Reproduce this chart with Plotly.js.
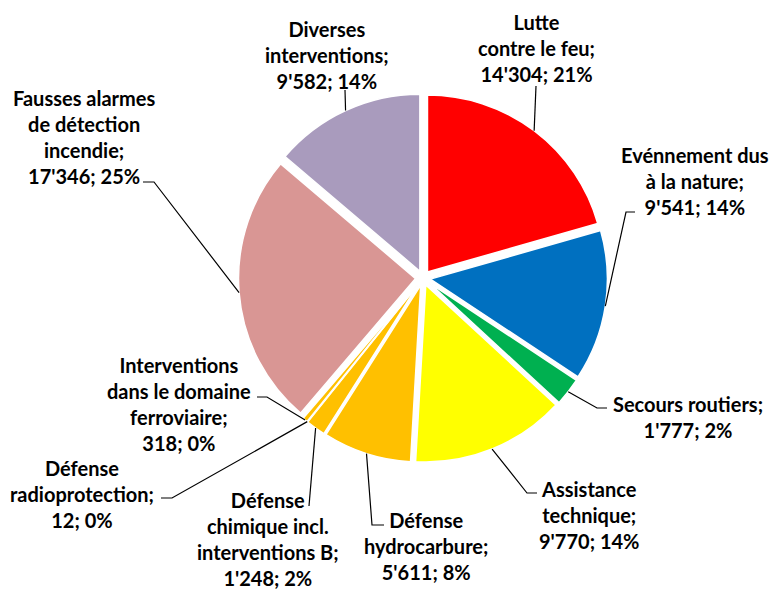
<!DOCTYPE html>
<html><head><meta charset="utf-8">
<script src="https://cdn.plot.ly/plotly-3.0.1.min.js"></script>
<style>html,body{margin:0;padding:0;background:#fff}#chart{width:770px;height:592px}</style>
</head><body><div id="chart"></div>
<script>
// ---- data ----
const categories = ["Lutte<br>contre le feu", "Evénnement dus<br>à la nature", "Secours routiers", "Assistance<br>technique", "Défense<br>hydrocarbure", "Défense<br>chimique incl.<br>interventions B", "Défense<br>radioprotection", "Interventions<br>dans le domaine<br>ferroviaire", "Fausses alarmes<br>de détection<br>incendie", "Diverses<br>interventions"];
const values = [14304, 9541, 1777, 9770, 5611, 1248, 12, 318, 17346, 9582];
const percentLabels = [21, 14, 2, 14, 8, 2, 0, 0, 25, 14];
const colors = ["#FF0000", "#0070C0", "#00B050", "#FFFF00", "#FFC000", "#FFC000", "#FFC000", "#FFC000", "#D99694", "#A99BBD"];

// ---- layout (pixel positions of label blocks and leader-line bends) ----
const W = 770, H = 592;
const domX = [0.3097, 0.7890], domY = [0.2188, 0.8421];
const pull = 0.042;
const labelLayout = [
  {x: 536, y: 48,  bend: [[536, 86]]},
  {x: 695, y: 181, bend: [[626, 212], [635, 212]]},
  {x: 688, y: 417, bend: [[597, 408], [607, 408]]},
  {x: 589, y: 515, bend: [[527, 493], [537, 493]]},
  {x: 426, y: 546, bend: [[372, 525], [384, 525]]},
  {x: 268, y: 539, bend: [[309, 506]]},
  {x: 82,  y: 494, bend: [[172, 498], [161, 498]]},
  {x: 179, y: 404, bend: [[267, 397], [257, 397]]},
  {x: 84,  y: 137, bend: [[154, 182], [143, 182]]},
  {x: 327, y: 55,  bend: [[345, 90]]}
];

function fmt(v) { return String(v).replace(/\B(?=(\d{3})+(?!\d))/g, "'"); }

const total = values.reduce((a, b) => a + b, 0);
const cx = W * (domX[0] + domX[1]) / 2;
const cy = H * (1 - (domY[0] + domY[1]) / 2);
const R = Math.min(W * (domX[1] - domX[0]), H * (domY[1] - domY[0])) / 2;

const annotations = [], shapes = [];
let cum = 0;
values.forEach((v, i) => {
  const th = 2 * Math.PI * (cum + v / 2) / total;
  cum += v;
  const px = cx + R * Math.sin(th), py = cy - R * Math.cos(th);
  const L = labelLayout[i];
  let d = "M " + (px / W) + " " + (1 - py / H);
  L.bend.forEach(p => { d += " L " + (p[0] / W) + " " + (1 - p[1] / H); });
  shapes.push({type: "path", xref: "paper", yref: "paper", path: d, line: {color: "#000", width: 1.2}});
  annotations.push({
    xref: "paper", yref: "paper", x: L.x / W, y: 1 - L.y / H,
    xanchor: "center", yanchor: "middle", showarrow: false, align: "center",
    text: categories[i] + ";<br>" + fmt(v) + "; " + percentLabels[i] + "%",
    font: {family: "Lato, 'Liberation Sans', sans-serif", size: 20, color: "#000", weight: "bold"}
  });
});

const trace = {
  type: "pie", values: values, labels: categories.map(c => c.replace(/<br>/g, " ")),
  sort: false, direction: "clockwise", rotation: 0,
  marker: {colors: colors, line: {color: "#fff", width: 1.5}},
  pull: values.map(() => pull), textinfo: "none", hoverinfo: "label+value+percent",
  domain: {x: domX, y: domY}, showlegend: false
};

Plotly.newPlot("chart", [trace], {
  width: W, height: H, margin: {l: 0, r: 0, t: 0, b: 0},
  paper_bgcolor: "#fff", showlegend: false,
  annotations: annotations, shapes: shapes
}, {displayModeBar: false, staticPlot: true});
</script></body></html>
